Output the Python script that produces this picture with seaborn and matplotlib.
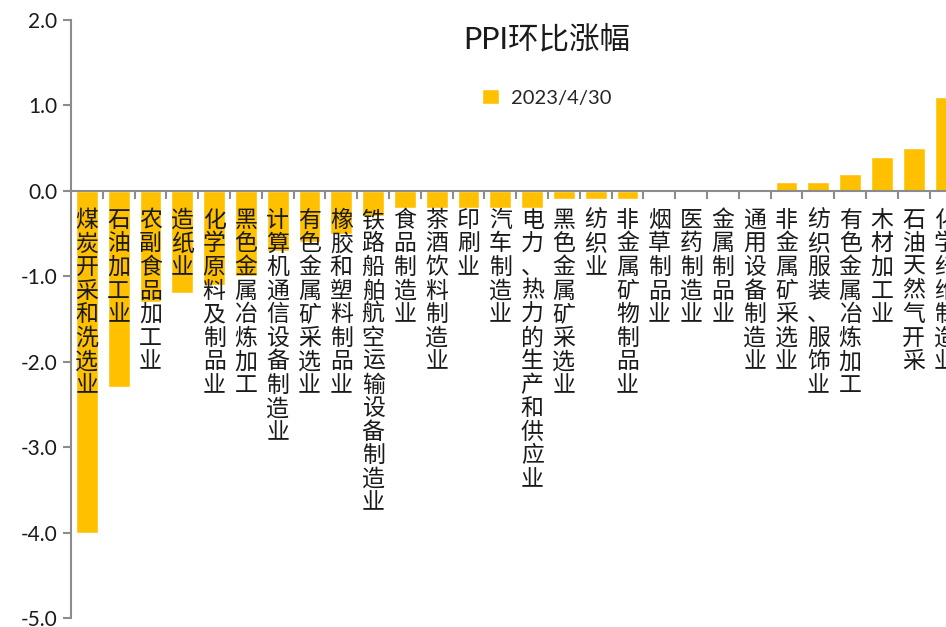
import matplotlib
matplotlib.use("Agg")
import matplotlib.pyplot as plt
import seaborn as sns
import pandas as pd
from matplotlib.ticker import FixedLocator, FuncFormatter

categories = [
    "煤炭开采和洗选业", "石油加工业", "农副食品加工业", "造纸业", "化学原料及制品业",
    "黑色金属冶炼加工", "计算机通信设备制造业", "有色金属矿采选业", "橡胶和塑料制品业",
    "铁路船舶航空运输设备制造业", "食品制造业", "茶酒饮料制造业", "印刷业", "汽车制造业",
    "电力、热力的生产和供应业", "黑色金属矿采选业", "纺织业", "非金属矿物制品业",
    "烟草制品业", "医药制造业", "金属制品业", "通用设备制造业", "非金属矿采选业",
    "纺织服装、服饰业", "有色金属冶炼加工", "木材加工业", "石油天然气开采", "化学纤维制造业",
]
values = [
    -4.0, -2.3, -1.3, -1.2, -1.1, -1.0, -0.7, -0.6, -0.5, -0.3, -0.2, -0.2, -0.2, -0.2,
    -0.2, -0.1, -0.1, -0.1, 0.0, 0.0, 0.0, 0.0, 0.1, 0.1, 0.2, 0.4, 0.5, 1.1,
]
series_label = "2023/4/30"
title = "PPI环比涨幅"
yticks = [2.0, 1.0, 0.0, -1.0, -2.0, -3.0, -4.0, -5.0]

sns.set_theme(style="white")
plt.rcParams["font.family"] = ["Noto Sans CJK SC", "DejaVu Sans"]

df = pd.DataFrame({"cat": categories, "val": values})

W, H = 946, 627
fig = plt.figure(figsize=(W / 100, H / 100), dpi=100)
left_px, right_px = 71, 71 + 31.8 * len(categories)
top_px, bot_px = 20, 618
ax = fig.add_axes([left_px / W, 1 - bot_px / H, (right_px - left_px) / W, (bot_px - top_px) / H])

sns.barplot(data=df, x="cat", y="val", color="#FFC000", width=0.69, ax=ax,
            label=series_label, saturation=1)
ax.set_axisbelow(False)
for p in ax.patches:
    p.set_zorder(0.5)

n = len(categories)
ax.set_xlim(-0.5, n - 0.5)
ax.set_ylim(-5, 2)
ax.set_xlabel("")
ax.set_ylabel("")

gray = "#8c8c8c"
for s in ["top", "right"]:
    ax.spines[s].set_visible(False)
ax.spines["left"].set_color(gray)
ax.spines["left"].set_linewidth(1.5)
ax.spines["bottom"].set_color(gray)
ax.spines["bottom"].set_linewidth(1.5)
ax.spines["bottom"].set_position(("data", 0))

ax.yaxis.set_major_locator(FixedLocator(yticks))
ax.yaxis.set_major_formatter(FuncFormatter(lambda v, p: f"{v:.1f}"))
ax.tick_params(axis="y", left=True, length=6, width=1.5, color=gray, labelsize=15, pad=4,
               labelcolor="#1a1a1a")
for t in ax.get_yticklabels():
    t.set_fontfamily(["Lato", "DejaVu Sans"])

# boundary ticks (major) and centered labels (minor)
ax.xaxis.set_major_locator(FixedLocator([i + 0.5 for i in range(n)]))
ax.xaxis.set_major_formatter(FuncFormatter(lambda v, p: ""))
ax.set_xticks(list(range(n)), minor=True)
ax.set_xticklabels(["\n".join(c) for c in categories], minor=True)
ax.tick_params(axis="x", which="major", bottom=True, length=6, width=1.5, color=gray)
ax.tick_params(axis="x", which="minor", bottom=True, length=0, labelsize=16.5, pad=13)
for t in ax.get_xticklabels(minor=True):
    t.set_linespacing(1.03)
    t.set_verticalalignment("top")
    t.set_color("#1a1a1a")

if ax.legend_ is not None:
    ax.legend_.remove()
handles, labels = ax.get_legend_handles_labels()
fig.legend(handles[:1], labels[:1], loc="center", bbox_to_anchor=(0.578, 0.844),
           frameon=False, handlelength=0.8, handleheight=0.8, handletextpad=0.6,
           prop={"family": ["Lato", "DejaVu Sans"], "size": 14.5})

fig.text(0.578, 0.938, title, ha="center", va="center", fontsize=22, color="#1a1a1a",
         family=["Lato", "Noto Sans CJK SC"])

fig.savefig("out.png", dpi=100)
